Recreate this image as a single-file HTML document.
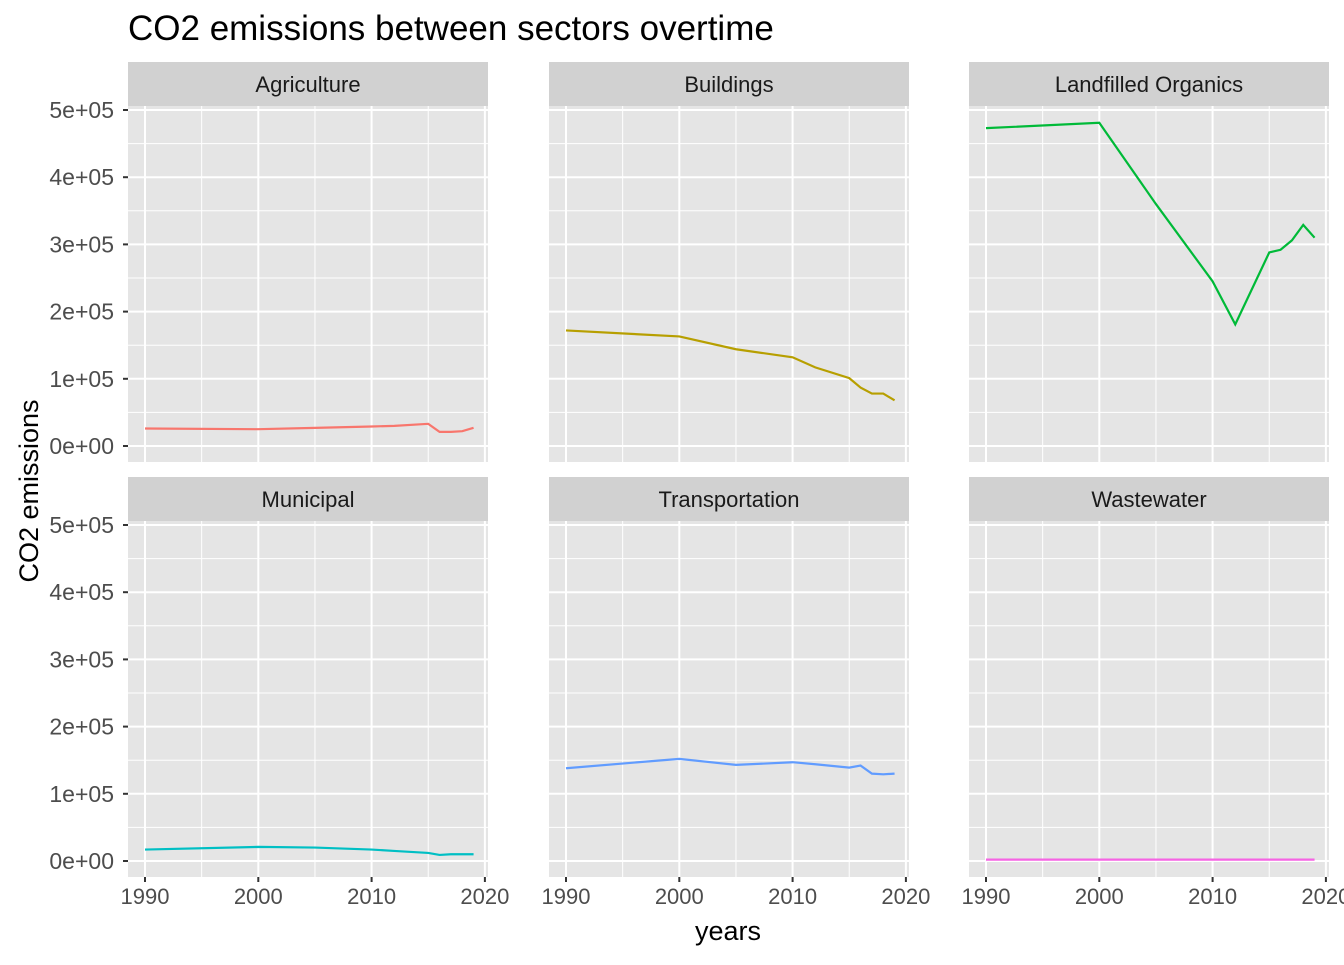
<!DOCTYPE html>
<html><head><meta charset="utf-8"><style>
body{margin:0;background:#fff;}
svg text{font-family:"Liberation Sans",Arial,sans-serif;}
</style></head><body>
<svg id="c" width="1344" height="960" xmlns="http://www.w3.org/2000/svg">
<text x="128" y="40" font-size="35" fill="#000">CO2 emissions between sectors overtime</text>
<text x="728" y="940" font-size="27" text-anchor="middle" fill="#000">years</text>
<text transform="translate(38,491) rotate(-90)" font-size="27" text-anchor="middle" fill="#000">CO2 emissions</text>
<g id="panels"></g>
</svg>
<script>
const years=[1990,2000,2005,2010,2012,2015,2016,2017,2018,2019];
const sectors=["Agriculture","Buildings","Landfilled Organics","Municipal","Transportation","Wastewater"];
const colors=["#F8766D","#B79F00","#00BA38","#00BFC4","#619CFF","#F564E3"];
const agriculture=[26000,25000,27000,29000,30000,33000,21000,21000,22000,27000];
const buildings=[172000,163000,144000,132000,117000,101000,87000,78000,78000,68000];
const landfilled=[473000,481000,360000,245000,181000,288000,292000,306000,329000,310000];
const municipal=[17000,21000,20000,17000,15000,12000,9000,10000,10000,10000];
const transportation=[138000,152000,143000,147000,144000,139000,142000,130000,129000,130000];
const wastewater=[2000,2000,2000,2000,2000,2000,2000,2000,2000,2000];
const series=[agriculture,buildings,landfilled,municipal,transportation,wastewater];
const xTicks=[1990,2000,2010,2020];
const yTicks=[0,100000,200000,300000,400000,500000];
const yLabels=["0e+00","1e+05","2e+05","3e+05","4e+05","5e+05"];
const NS="http://www.w3.org/2000/svg";
const g=document.getElementById('panels');
function el(t,a,p){const e=document.createElementNS(NS,t);for(const k in a)e.setAttribute(k,a[k]);(p||g).appendChild(e);return e;}
const colX=[128,549,969],rowY=[106,521],PW=360,PH=356;
for(let i=0;i<6;i++){
 const c=i%3,r=Math.floor(i/3),L=colX[c],T=rowY[r];
 const sx=v=>L+17+(v-1990)*11.33;
 const sy=v=>T+340-v*0.000672;
 const pg=el('g',{});
 
 
 const st=el('rect',{x:L,y:T-44,width:PW,height:44,fill:'#D1D1D1'},pg);
 
 
 const stt=el('text',{x:L+PW/2,y:T-14,'font-size':22,'text-anchor':'middle',fill:'#1a1a1a'},pg);
 stt.textContent=sectors[i];
 
 
 el('rect',{x:L,y:T,width:PW,height:PH,fill:'#E5E5E5'},pg);
 for(let v=50000;v<=450000;v+=100000)el('line',{x1:L,x2:L+PW,y1:sy(v),y2:sy(v),stroke:'#fff','stroke-width':1},pg);
 for(let yr=1995;yr<=2015;yr+=10)el('line',{x1:sx(yr),x2:sx(yr),y1:T,y2:T+PH,stroke:'#fff','stroke-width':1},pg);
 yTicks.forEach(v=>el('line',{x1:L,x2:L+PW,y1:sy(v),y2:sy(v),stroke:'#fff','stroke-width':2},pg));
 xTicks.forEach(v=>el('line',{x1:sx(v),x2:sx(v),y1:T,y2:T+PH,stroke:'#fff','stroke-width':2},pg));
 const ln=el('polyline',{points:years.map((y,k)=>sx(y)+','+sy(series[i][k])).join(' '),fill:'none',stroke:colors[i],'stroke-width':2.2},pg);
 
 
 if(c===0){yTicks.forEach((v,k)=>{el('line',{x1:L-5,x2:L,y1:sy(v),y2:sy(v),stroke:'#333','stroke-width':2},pg);
  const t=el('text',{x:L-14,y:sy(v)+8,'font-size':23,'text-anchor':'end',fill:'#4d4d4d'},pg);t.textContent=yLabels[k];
  
  });}
 if(r===1){xTicks.forEach(v=>{el('line',{x1:sx(v),x2:sx(v),y1:T+PH,y2:T+PH+5,stroke:'#333','stroke-width':2},pg);
  const t=el('text',{x:sx(v),y:T+PH+27,'font-size':22,'text-anchor':'middle',fill:'#4d4d4d'},pg);t.textContent=v;
  
  });}
}
</script>
</body></html>
